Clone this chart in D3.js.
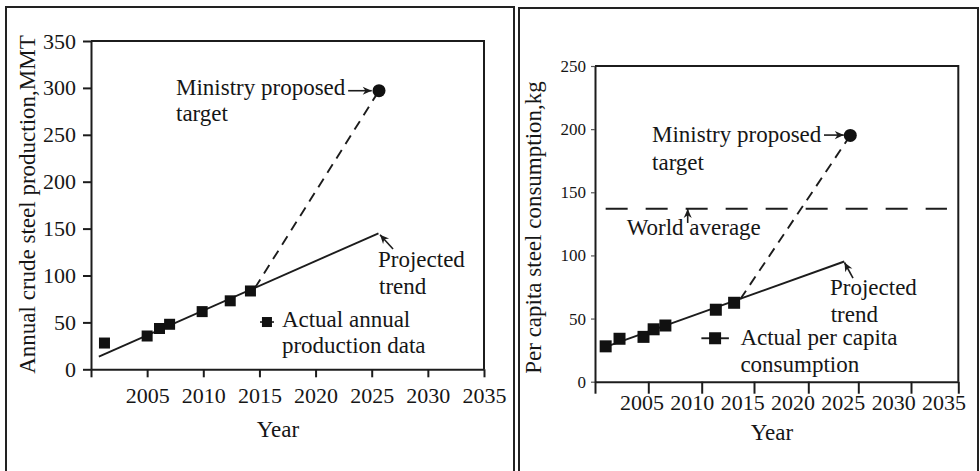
<!DOCTYPE html>
<html><head><meta charset="utf-8">
<script src="https://cdn.jsdelivr.net/npm/d3@7"></script>
<style>
body{margin:0;background:#fff}
text{font-family:"Liberation Serif","Times New Roman",serif;fill:#161616}
</style>
</head><body>
<svg id="chart" width="980" height="471"></svg>
<script>
// ---------- data: left panel (crude steel production, MMT) ----------
const prodYears = [2001.2, 2005.0, 2006.1, 2007.0, 2009.9, 2012.4, 2014.2];
const prodValues = [28, 35.5, 43.5, 48, 61.5, 73, 83.5];
const prodTrendYears = [2000.7, 2025.6];
const prodTrendValues = [13.5, 145];
const prodTargetYears = [2014.6, 2025.65];
const prodTargetValues = [86.8, 297];
const leftYTicks = [0, 50, 100, 150, 200, 250, 300, 350];
const xTickYears = [2000, 2005, 2010, 2015, 2020, 2025, 2030, 2035];

// ---------- data: right panel (per capita consumption, kg) ----------
const consYears = [2001.0, 2002.3, 2004.55, 2005.5, 2006.6, 2011.35, 2013.1];
const consValues = [28, 34, 35.5, 41.5, 44.5, 57, 62.5];
const consTrendYears = [2001.0, 2023.6];
const consTrendValues = [27.5, 95.2];
const consTargetYears = [2013.7, 2024.2];
const consTargetValues = [65.5, 195];
const worldAverage = 137;
const worldAverageYears = [2001, 2033.8];
const rightYTicks = [0, 50, 100, 150, 200, 250];

const svg = d3.select("#chart");
const ink = "#1c1c1c";
const serif = '"Liberation Serif","Times New Roman",serif';

// arrow marker
svg.append("defs").append("marker")
  .attr("id", "arr").attr("viewBox", "0 0 10 10").attr("refX", 10).attr("refY", 5)
  .attr("markerWidth", 10).attr("markerHeight", 9).attr("markerUnits", "userSpaceOnUse")
  .attr("orient", "auto")
  .append("path").attr("d", "M0,0.5 L10,5 L0,9.5 L3,5 Z").attr("fill", ink);

// panel frames
svg.append("rect").attr("x", 6).attr("y", 7).attr("width", 508).attr("height", 480)
  .attr("fill", "none").attr("stroke", "#222").attr("stroke-width", 2);
svg.append("rect").attr("x", 519).attr("y", 8).attr("width", 459).attr("height", 480)
  .attr("fill", "none").attr("stroke", "#222").attr("stroke-width", 2);

function styleAxis(g, fs, col) {
  g.attr("font-family", serif).attr("font-size", fs);
  g.selectAll("path.domain").attr("stroke", ink).attr("stroke-width", 2);
  g.selectAll(".tick line").attr("stroke", ink).attr("stroke-width", 2);
  g.selectAll("text").style("font-family", serif)
    .style("font-size", fs + "px").attr("fill", col || ink);
}
function txt(x, y, s, size, anchor) {
  return svg.append("text").attr("x", x).attr("y", y).text(s)
    .style("font-size", (size || 23) + "px").attr("text-anchor", anchor || "start");
}
function arrow(x1, y1, x2, y2) {
  svg.append("line").attr("x1", x1).attr("y1", y1).attr("x2", x2).attr("y2", y2)
    .attr("stroke", ink).attr("stroke-width", 1.6).attr("marker-end", "url(#arr)");
}
const yearFmt = d3.format("d");

// ================= LEFT PANEL =================
const xL = d3.scaleLinear().domain([2000, 2035]).range([91, 484]);
const yL = d3.scaleLinear().domain([0, 350]).range([369.3, 41]);

svg.append("path").attr("d", `M${xL(2000)},${yL(350)}H${xL(2035)}V${yL(0)}`)
  .attr("fill", "none").attr("stroke", ink).attr("stroke-width", 2);

const gLy = svg.append("g").attr("transform", `translate(${xL(2000)},0)`)
  .call(d3.axisLeft(yL).tickValues(leftYTicks).tickSize(8).tickSizeOuter(0).tickPadding(7)
    .tickFormat(d3.format("d")));
styleAxis(gLy, 22);
const gLx = svg.append("g").attr("transform", `translate(0,${yL(0)})`)
  .call(d3.axisBottom(xL).tickValues(xTickYears).tickSize(8).tickSizeOuter(0).tickPadding(10)
    .tickFormat(d => d === 2000 ? "" : yearFmt(d)));
styleAxis(gLx, 22);

const lineL = d3.line().x(d => xL(d[0])).y(d => yL(d[1]));
svg.append("path").datum(d3.zip(prodTrendYears, prodTrendValues)).attr("d", lineL)
  .attr("fill", "none").attr("stroke", ink).attr("stroke-width", 1.9);
svg.append("path").datum(d3.zip(prodTargetYears, prodTargetValues)).attr("d", lineL)
  .attr("fill", "none").attr("stroke", ink).attr("stroke-width", 1.9).attr("stroke-dasharray", "10,7");
svg.append("circle").attr("cx", xL(prodTargetYears[1])).attr("cy", yL(prodTargetValues[1]))
  .attr("r", 6.5).attr("fill", "#111");
svg.append("g").selectAll("rect").data(d3.zip(prodYears, prodValues)).join("rect")
  .attr("x", d => xL(d[0]) - 5.5).attr("y", d => yL(d[1]) - 5.5)
  .attr("width", 11).attr("height", 11).attr("fill", "#111");

txt(xL(2007.57), yL(292.5), "Ministry proposed");
txt(xL(2007.57), yL(264.8), "target");
arrow(xL(2022.9), yL(297), xL(2025.0), yL(297));
txt(xL(2025.56), yL(109.1), "Projected");
txt(xL(2025.65), yL(80.3), "trend");
arrow(xL(2026.9), yL(128.3), xL(2025.74), yL(143.5));
svg.append("line").attr("x1", xL(2015.05)).attr("x2", xL(2016.3)).attr("y1", yL(50.4)).attr("y2", yL(50.4))
  .attr("stroke", ink).attr("stroke-width", 1.6);
svg.append("rect").attr("x", xL(2015.67) - 5).attr("y", yL(50.4) - 5).attr("width", 10).attr("height", 10).attr("fill", "#111");
txt(xL(2017.0), yL(45.1), "Actual annual");
txt(xL(2017.0), yL(17.4), "production data");

txt(278, 437, "Year", 23, "middle");
svg.append("text").attr("transform", "translate(35,204.5) rotate(-90)").attr("text-anchor", "middle")
  .style("font-size", "23px").text("Annual crude steel production,MMT");

// ================= RIGHT PANEL =================
const xR = d3.scaleLinear().domain(xTickYears).range([595, 648.3, 701.7, 754, 808.3, 858.3, 911, 958.3]);
const xRLabel = d3.scaleLinear().domain([2005, 2035]).range([641.5, 943.5]);
const yR = d3.scaleLinear().domain([0, 250]).range([381.7, 66]);

svg.append("path").attr("d", `M${xR(2000)},${yR(250)}H${xR(2035)}V${yR(0)}`)
  .attr("fill", "none").attr("stroke", ink).attr("stroke-width", 2);

const gRy = svg.append("g").attr("transform", `translate(${xR(2000)},0)`)
  .call(d3.axisLeft(yR).tickValues(rightYTicks).tickSize(4).tickSizeOuter(0).tickPadding(5)
    .tickFormat(d3.format("d")));
styleAxis(gRy, 17, "#3a3a3a");
gRy.selectAll(".tick line").attr("stroke-width", 1.2).attr("stroke", "#555");
const gRx = svg.append("g").attr("transform", `translate(0,${yR(0)})`)
  .call(d3.axisBottom(xR).tickValues(xTickYears).tickSize(12).tickSizeOuter(0).tickFormat(""));
styleAxis(gRx, 22);
const gRxl = svg.append("g").attr("transform", `translate(0,${yR(0)})`)
  .call(d3.axisBottom(xRLabel).tickValues(xTickYears.slice(1)).tickSize(0).tickPadding(12.7)
    .tickFormat(yearFmt));
gRxl.select("path.domain").remove();
styleAxis(gRxl, 22);

svg.append("line").attr("x1", xR(worldAverageYears[0])).attr("x2", xR(worldAverageYears[1]))
  .attr("y1", yR(worldAverage)).attr("y2", yR(worldAverage))
  .attr("stroke", ink).attr("stroke-width", 1.9).attr("stroke-dasharray", "22,18");

const lineR = d3.line().x(d => xR(d[0])).y(d => yR(d[1]));
svg.append("path").datum(d3.zip(consTrendYears, consTrendValues)).attr("d", lineR)
  .attr("fill", "none").attr("stroke", ink).attr("stroke-width", 1.9);
svg.append("path").datum(d3.zip(consTargetYears, consTargetValues)).attr("d", lineR)
  .attr("fill", "none").attr("stroke", ink).attr("stroke-width", 1.9).attr("stroke-dasharray", "10,7");
svg.append("circle").attr("cx", xR(consTargetYears[1])).attr("cy", yR(consTargetValues[1]))
  .attr("r", 6.5).attr("fill", "#111");
svg.append("g").selectAll("rect").data(d3.zip(consYears, consValues)).join("rect")
  .attr("x", d => xR(d[0]) - 6).attr("y", d => yR(d[1]) - 6)
  .attr("width", 12).attr("height", 12).attr("fill", "#111");

txt(xR(2005.35), yR(190.0), "Ministry proposed");
txt(xR(2005.35), yR(167.6), "target");
arrow(xR(2021.57), yR(195.3), xR(2023.55), yR(195.3));
txt(xR(2002.97), yR(116.2), "World average");
arrow(xR(2008.69), yR(125.7), xR(2008.69), yR(136.8));
txt(xR(2022.17), yR(68.6), "Projected");
txt(xR(2022.24), yR(47.5), "trend");
arrow(xR(2024.47), yR(82.1), xR(2023.62), yR(94.4));
svg.append("line").attr("x1", xR(2009.97)).attr("x2", xR(2012.6)).attr("y1", yR(34.4)).attr("y2", yR(34.4))
  .attr("stroke", ink).attr("stroke-width", 1.9);
svg.append("rect").attr("x", xR(2011.28) - 6).attr("y", yR(34.4) - 6).attr("width", 12).attr("height", 12).attr("fill", "#111");
txt(xR(2013.7), yR(29.1), "Actual per capita");
txt(xR(2013.7), yR(7.9), "consumption");

txt(772, 440, "Year", 23, "middle");
svg.append("text").attr("transform", "translate(541,227.5) rotate(-90)").attr("text-anchor", "middle")
  .style("font-size", "23px").text("Per capita steel consumption,kg");
</script>
</body></html>
